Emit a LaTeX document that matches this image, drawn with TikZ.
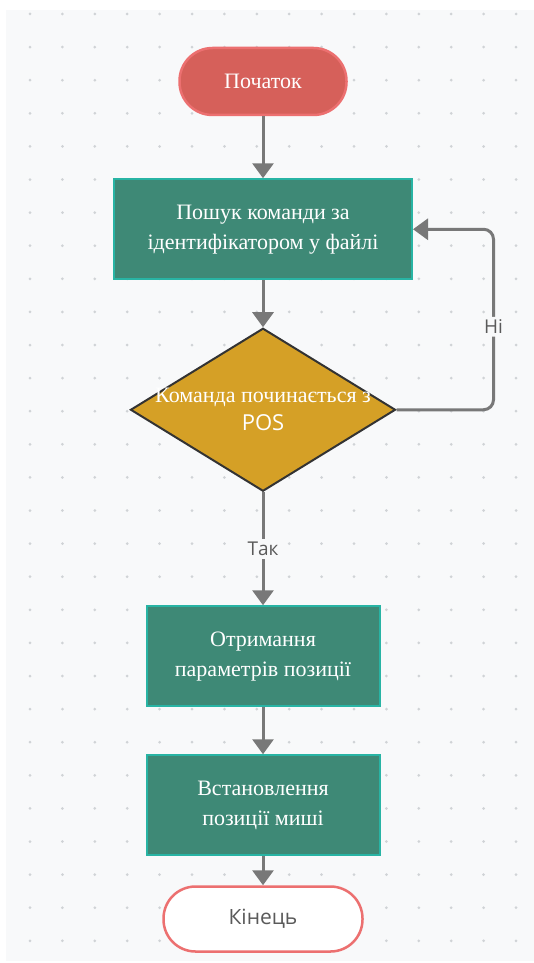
\documentclass[tikz,border=0pt]{standalone}
\usepackage{fontspec}
\setmainfont{Liberation Serif}
\setsansfont{Open Sans}
\usetikzlibrary{shapes.geometric, arrows.meta, positioning}
\usepackage{xcolor}
\definecolor{canvas}{RGB}{248,249,250}
\definecolor{griddot}{RGB}{208,211,214}
\definecolor{startred}{RGB}{214,96,90}
\definecolor{startedge}{RGB}{236,112,112}
\definecolor{stepgreen}{RGB}{62,137,118}
\definecolor{stepedge}{RGB}{40,180,164}
\definecolor{checkgold}{RGB}{213,160,38}
\definecolor{linegray}{RGB}{120,120,120}
\definecolor{labelgray}{RGB}{90,90,90}

\begin{document}
\begin{tikzpicture}[
    x=1pt, y=1pt,
    node distance=50pt,
    start/.style={rectangle, rounded corners=33pt, minimum width=167pt, minimum height=67pt, fill=startred, draw=startedge, line width=2.5pt, text=white, font=\fontsize{22}{30}\selectfont},
    process/.style={rectangle, minimum width=298pt, minimum height=100pt, fill=stepgreen, draw=stepedge, line width=2pt, text=white, align=center, font=\fontsize{22}{30}\selectfont},
    decision/.style={diamond, minimum width=265pt, minimum height=163pt, inner sep=0pt, fill=checkgold, draw=black!80, line width=2pt, text=white, align=center, font=\fontsize{22}{28}\selectfont},
    finish/.style={rectangle, rounded corners=32pt, minimum width=199pt, minimum height=65pt, fill=white, draw=startedge, line width=2.5pt, text=labelgray, font=\sffamily\fontsize{21}{26}\selectfont},
    lbl/.style={fill=canvas, text=labelgray, font=\sffamily\fontsize{19}{22}\selectfont, inner sep=3pt},
    arr/.style={-{Triangle[width=21pt, length=15pt]}, line width=3pt, linegray},
]

% canvas and dot grid
\useasboundingbox (0,0) rectangle (534,-963);
\fill[white] (0,0) rectangle (534,-963);
\fill[canvas] (6,-10) rectangle (534,-961);
\foreach \i in {0,...,15}
    \foreach \j in {0,...,28}
        \fill[griddot] ({30+32.4*\i},{-14-33.1*\j}) circle (1.5pt);

\node[start] (start) at (263,-81.5) {Початок};

\node[process, below=62pt of start] (search) {Пошук команди за\\ідентифікатором у файлі};
\node[decision, below=47pt of search] (check) {\makebox[0pt]{Команда починається з}\\\makebox[0pt]{\sffamily POS}};
\node[process, minimum width=233pt, below=113pt of check] (params) {Отримання\\параметрів позиції};
\node[process, minimum width=233pt, below=47pt of params] (setpos) {Встановлення\\позиції миші};
\node[finish, below=29pt of setpos] (finish) {Кінець};

% Arrows
\draw[arr] (start) -- (search);
\draw[arr] (search) -- (check);
\draw[arr, rounded corners=10pt] (check.east) -- ++(97,0) |- node[lbl, pos=0.23] {Ні} (search.east);
\draw[arr] (check) -- node[lbl] {Так} (params);
\draw[arr] (params) -- (setpos);
\draw[arr] (setpos) -- (finish);

\end{tikzpicture}
\end{document}
